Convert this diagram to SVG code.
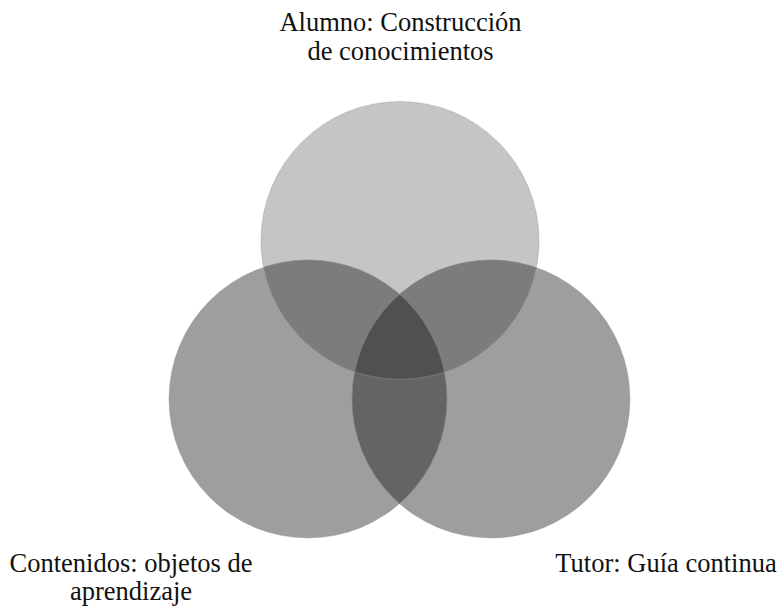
<svg xmlns="http://www.w3.org/2000/svg" width="780" height="607" viewBox="0 0 780 607">
<style>
  .lbl { font-family: 'Liberation Serif', 'Times New Roman', serif; font-size: 26.5px; fill: #111; text-anchor: middle; }
  .edge { stroke: #8a8b8d; stroke-width: 0.6; stroke-opacity: 0.6; }
</style>
<defs>
  <clipPath id="cTop"><circle cx="400" cy="240.5" r="139"/></clipPath>
  <clipPath id="cLeft"><circle cx="308" cy="399" r="139"/></clipPath>
  <clipPath id="cRight"><circle cx="491" cy="399" r="139"/></clipPath>
</defs>
<rect width="780" height="607" fill="#ffffff"/>
<g id="alumno">
  <circle class="edge" cx="400" cy="240.5" r="139" fill="#c4c5c7"/>
  <text class="lbl" x="400.5" y="31">Alumno: Construcción</text>
  <text class="lbl" x="400.5" y="60">de conocimientos</text>
</g>
<g id="contenidos">
  <circle class="edge" cx="308" cy="399" r="139" fill="#9d9ea0"/>
  <text class="lbl" x="131" y="572">Contenidos: objetos de</text>
  <text class="lbl" x="131" y="600">aprendizaje</text>
</g>
<g id="tutor">
  <circle class="edge" cx="491" cy="399" r="139" fill="#9d9ea0"/>
  <text class="lbl" x="666" y="572">Tutor: Guía continua</text>
</g>
<g id="overlaps">
  <circle class="edge" cx="308" cy="399" r="139" fill="#7b7c7e" clip-path="url(#cTop)"/>
  <circle class="edge" cx="491" cy="399" r="139" fill="#7b7c7e" clip-path="url(#cTop)"/>
  <circle class="edge" cx="491" cy="399" r="139" fill="#636466" clip-path="url(#cLeft)"/>
  <g clip-path="url(#cTop)">
    <circle class="edge" cx="491" cy="399" r="139" fill="#4f5052" clip-path="url(#cLeft)"/>
  </g>
  <circle cx="400" cy="240.5" r="139" fill="none" class="edge" clip-path="url(#cLeft)"/>
  <circle cx="400" cy="240.5" r="139" fill="none" class="edge" clip-path="url(#cRight)"/>
  <circle cx="308" cy="399" r="139" fill="none" class="edge" clip-path="url(#cRight)"/>
</g>
</svg>
